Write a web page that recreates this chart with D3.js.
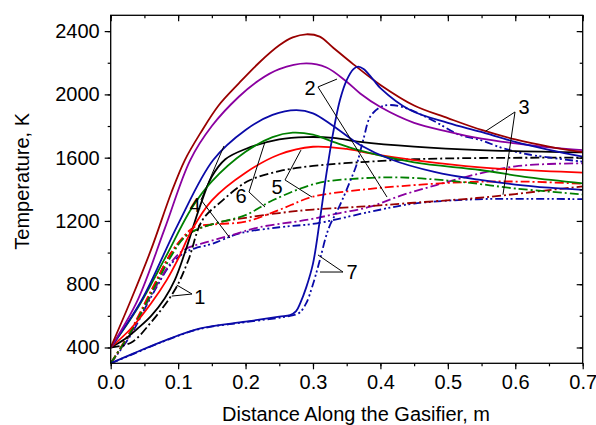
<!DOCTYPE html>
<html><head><meta charset="utf-8">
<script src="https://cdn.jsdelivr.net/npm/d3@7"></script>
<style>html,body{margin:0;padding:0;background:#fff}svg{display:block}text{font-family:"Liberation Sans",Arial,sans-serif}</style>
</head><body><svg id="c" width="596" height="425"></svg>
<script>
// ---- data: [distance (m), temperature (K)] ----
const darkRedSolid = [[0,400],[0.03,700],[0.06,1020],[0.09,1380],[0.11,1585],[0.133,1755],[0.16,1930],[0.19,2070],[0.22,2200],[0.25,2310],[0.27,2360],[0.29,2380],[0.31,2365],[0.33,2295],[0.36,2190],[0.4,2060],[0.45,1930],[0.5,1850],[0.55,1775],[0.6,1715],[0.65,1670],[0.7,1635]];
const purpleSolid = [[0,400],[0.04,700],[0.08,1150],[0.118,1585],[0.15,1800],[0.19,1985],[0.22,2090],[0.25,2160],[0.29,2196],[0.32,2170],[0.35,2080],[0.37,2006],[0.4,1920],[0.45,1820],[0.5,1765],[0.55,1720],[0.6,1690],[0.65,1665],[0.7,1648]];
const blueSolid = [[0,400],[0.046,700],[0.1,1180],[0.152,1585],[0.2,1775],[0.24,1870],[0.275,1900],[0.3,1880],[0.33,1800],[0.37,1680],[0.415,1590],[0.48,1510],[0.548,1459],[0.6,1430],[0.65,1410],[0.7,1396]];
const greenSolid = [[0,400],[0.04,650],[0.08,960],[0.12,1280],[0.15,1450],[0.2,1637],[0.24,1730],[0.27,1758],[0.3,1745],[0.33,1700],[0.37,1645],[0.45,1570],[0.548,1522],[0.62,1475],[0.7,1438]];
const redSolid = [[0,400],[0.03,520],[0.06,680],[0.083,826],[0.1,960],[0.12,1140],[0.15,1330],[0.2,1505],[0.25,1620],[0.3,1669],[0.35,1655],[0.385,1627],[0.45,1585],[0.548,1539],[0.7,1505]];
const blackSolid = [[0,400],[0.02,450],[0.04,520],[0.06,600],[0.08,710],[0.095,826],[0.11,1000],[0.133,1300],[0.15,1480],[0.17,1590],[0.2,1655],[0.25,1715],[0.29,1730],[0.33,1725],[0.37,1700],[0.45,1670],[0.548,1648],[0.7,1633]];
const blueSolid7 = [[0,300],[0.034,363],[0.082,447],[0.133,521],[0.2,563],[0.25,595],[0.266,605],[0.275,630],[0.281,679],[0.29,780],[0.3,930],[0.31,1200],[0.32,1500],[0.33,1760],[0.34,1964],[0.35,2090],[0.36,2160],[0.367,2175],[0.375,2160],[0.39,2090],[0.4,2040],[0.444,1901],[0.5,1820],[0.548,1764],[0.6,1700],[0.65,1650],[0.7,1606]];
const blueDash7 = [[0,300],[0.034,360],[0.082,445],[0.133,518],[0.2,560],[0.266,600],[0.28,620],[0.29,680],[0.3,800],[0.31,950],[0.323,1150],[0.34,1300],[0.355,1450],[0.365,1560],[0.375,1720],[0.385,1860],[0.4,1920],[0.415,1933],[0.44,1910],[0.48,1830],[0.518,1743],[0.548,1712],[0.582,1659],[0.62,1620],[0.7,1575]];
const blackDash = [[0,400],[0.03,430],[0.06,560],[0.095,763],[0.115,950],[0.136,1205],[0.166,1330],[0.19,1415],[0.207,1459],[0.25,1515],[0.3,1548],[0.38,1574],[0.45,1590],[0.55,1598],[0.7,1600]];
const greenDash = [[0,300],[0.03,500],[0.06,740],[0.09,980],[0.11,1100],[0.13,1150],[0.16,1190],[0.2,1237],[0.241,1332],[0.306,1438],[0.37,1469],[0.43,1475],[0.5,1455],[0.548,1433],[0.6,1405],[0.7,1368]];
const redDash = [[0,300],[0.03,510],[0.06,760],[0.09,1000],[0.11,1110],[0.125,1163],[0.16,1180],[0.2,1195],[0.25,1270],[0.3,1353],[0.37,1396],[0.43,1420],[0.5,1440],[0.548,1448],[0.62,1448],[0.7,1435]];
const darkRedDash = [[0,300],[0.03,500],[0.06,750],[0.09,1000],[0.11,1100],[0.13,1150],[0.165,1195],[0.2,1220],[0.25,1250],[0.3,1272],[0.37,1290],[0.45,1315],[0.543,1345],[0.6,1370],[0.65,1395],[0.7,1418]];
const purpleDash = [[0,300],[0.03,490],[0.06,730],[0.09,940],[0.11,1020],[0.145,1069],[0.18,1111],[0.22,1160],[0.29,1206],[0.34,1250],[0.385,1290],[0.43,1360],[0.483,1427],[0.548,1501],[0.6,1545],[0.65,1560],[0.7,1564]];
const blueDash = [[0,300],[0.03,480],[0.06,720],[0.09,930],[0.11,1000],[0.125,1027],[0.15,1055],[0.192,1122],[0.25,1160],[0.306,1185],[0.385,1258],[0.45,1310],[0.543,1337],[0.6,1340],[0.7,1338]];

const xTickValues = [0,0.1,0.2,0.3,0.4,0.5,0.6,0.7];
const xTickLabels = ["0.0","0.1","0.2","0.3","0.4","0.5","0.6","0.7"];
const yTickValues = [400,800,1200,1600,2000,2400];
const yTickLabels = ["400","800","1200","1600","2000","2400"];
const xLabel = "Distance Along the Gasifier, m";
const yLabel = "Temperature, K";

// annotation labels: text position, vertex, endpoints (data coords)
const annoText = ["1","2","3","4","5","6","7"];
const annoPos = [[0.132,722],[0.2956,2040],[0.613,1920],[0.125,1301],[0.2468,1415],[0.1932,1358],[0.358,877]];
const annoVertex = [[0.1206,738],[0.3074,2047],[0.5996,1889],[0.1339,1333],[0.2585,1459],[0.2051,1383],[0.3445,877]];
const annoEndA = [[0.0979,795],[0.3356,2097],[0.5566,1769],[0.168,1674],[0.2822,1648],[0.2288,1699],[0.3074,985]];
const annoEndB = [[0.0905,725],[0.4098,1351],[0.5818,1366],[0.1769,1092],[0.2985,1351],[0.2288,1288],[0.3104,877]];

// ---- drawing ----
const svg = d3.select("#c");
const L = 110.7, R = 582.7, T = 15.3, B = 363.3;
const x = d3.scaleLinear().domain([0,0.7]).range([L,R]);
const y = d3.scaleLinear().domain([300,2500]).range([B,T]);

const DD = "9,3,2,3", DDD = "8,3,2,2.5,2,3";
const series = [
  {d: blueDash, c:"#0a0aa8", dash: DDD},
  {d: purpleDash, c:"#8a00a0", dash: DD},
  {d: darkRedDash, c:"#990000", dash: "9,3,2,3"},
  {d: redDash, c:"#ff0000", dash: DD},
  {d: greenDash, c:"#008000", dash: DD},
  {d: blackDash, c:"#000000", dash: DD},
  {d: blueDash7, c:"#0a0aa8", dash: DDD},
  {d: blackSolid, c:"#000000"},
  {d: redSolid, c:"#ff0000"},
  {d: greenSolid, c:"#008000"},
  {d: blueSolid, c:"#0a0aa8"},
  {d: purpleSolid, c:"#8a00a0"},
  {d: darkRedSolid, c:"#990000"},
  {d: blueSolid7, c:"#0a0aa8"}
];

svg.append("clipPath").attr("id","clip").append("rect").attr("x",L).attr("y",T).attr("width",R-L).attr("height",B-T);
const line = d3.line().x(d=>x(d[0])).y(d=>y(d[1])).curve(d3.curveCatmullRom.alpha(0.5));
const g = svg.append("g").attr("clip-path","url(#clip)");
series.forEach(s=>{
  g.append("path").attr("d",line(s.d)).attr("fill","none").attr("stroke",s.c)
   .attr("stroke-width",1.8).attr("stroke-dasharray", s.dash||null);
});

// annotations
annoText.forEach((t,i)=>{
  const v = annoVertex[i];
  [annoEndA[i],annoEndB[i]].forEach(e=>{
    svg.append("line").attr("x1",x(v[0])).attr("y1",y(v[1])).attr("x2",x(e[0])).attr("y2",y(e[1]))
      .attr("stroke","#000").attr("stroke-width",1);
  });
  svg.append("text").attr("x",x(annoPos[i][0])).attr("y",y(annoPos[i][1])).attr("dy","0.35em")
    .attr("text-anchor","middle").attr("font-size",20).text(t);
});

// axes
const fs = 20;
const minorX = d3.range(0,0.7001,0.05), minorY = d3.range(400,2500,200);
function styleAxis(sel){ sel.select(".domain").remove(); sel.selectAll("line").attr("stroke","#000").attr("stroke-width",1.2); sel.selectAll("text").attr("font-size",fs).attr("fill","#000").attr("font-family","Liberation Sans, Arial, sans-serif"); }
svg.append("g").attr("transform",`translate(0,${B})`).call(d3.axisBottom(x).tickValues(minorX).tickSize(3).tickFormat("")).call(styleAxis);
svg.append("g").attr("transform",`translate(0,${B})`).call(d3.axisBottom(x).tickValues(xTickValues).tickSize(6).tickPadding(6).tickFormat((d,i)=>xTickLabels[i])).call(styleAxis);
svg.append("g").attr("transform",`translate(0,${T})`).call(d3.axisBottom(x).tickValues(minorX).tickSize(3).tickFormat("")).call(styleAxis);
svg.append("g").attr("transform",`translate(0,${T})`).call(d3.axisBottom(x).tickValues(xTickValues).tickSize(6).tickFormat("")).call(styleAxis);
svg.append("g").attr("transform",`translate(${L},0)`).call(d3.axisLeft(y).tickValues(minorY).tickSize(3).tickFormat("")).call(styleAxis);
svg.append("g").attr("transform",`translate(${L},0)`).call(d3.axisLeft(y).tickValues(yTickValues).tickSize(6).tickPadding(5).tickFormat((d,i)=>yTickLabels[i])).call(styleAxis);
svg.append("g").attr("transform",`translate(${R},0)`).call(d3.axisLeft(y).tickValues(minorY).tickSize(3).tickFormat("")).call(styleAxis);
svg.append("g").attr("transform",`translate(${R},0)`).call(d3.axisLeft(y).tickValues(yTickValues).tickSize(6).tickFormat("")).call(styleAxis);
svg.append("rect").attr("x",L).attr("y",T).attr("width",R-L).attr("height",B-T).attr("fill","none").attr("stroke","#000").attr("stroke-width",1.3);

svg.append("text").attr("x",222).attr("y",421).attr("font-size",fs).text(xLabel);
svg.append("text").attr("transform",`translate(29,${(T+B)/2 - 8}) rotate(-90)`).attr("text-anchor","middle").attr("font-size",fs).text(yLabel);
</script></body></html>
